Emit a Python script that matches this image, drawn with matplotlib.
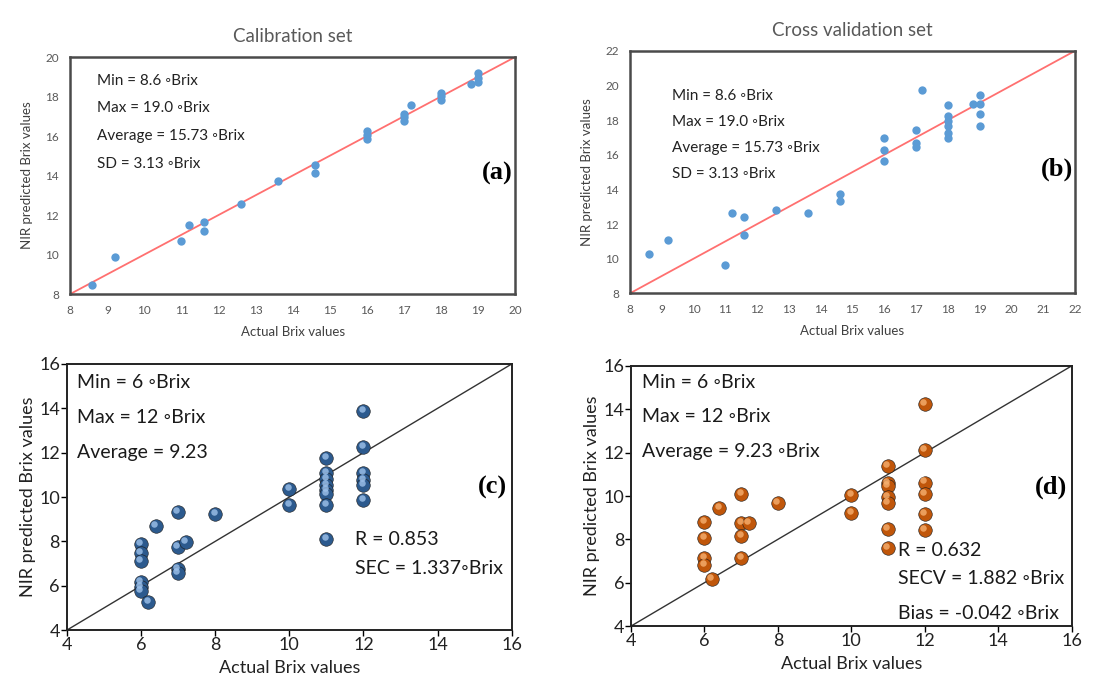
import matplotlib
matplotlib.use("Agg")
import matplotlib.pyplot as plt
from matplotlib.transforms import offset_copy

plt.rcParams['font.family'] = ['Lato', 'DejaVu Sans']

# (a) calibration set
cal_x = [8.6, 9.2, 11.0, 11.2, 11.6, 11.6, 12.6, 13.6, 14.6, 14.6, 16.0, 16.0, 16.0,
         17.0, 17.0, 17.0, 17.2, 18.0, 18.0, 18.0, 18.8, 19.0, 19.0, 19.0]
cal_y = [8.45, 9.85, 10.7, 11.47, 11.66, 11.19, 12.58, 13.71, 14.54, 14.14, 16.24, 16.07, 15.87,
         17.13, 16.97, 16.76, 17.59, 18.18, 18.01, 17.84, 18.65, 19.19, 18.96, 18.72]

# (b) cross validation set
cv_x = [8.6, 9.2, 11.0, 11.2, 11.6, 11.6, 12.6, 13.6, 14.6, 14.6, 16.0, 16.0, 16.0,
        17.0, 17.0, 17.0, 17.2, 18.0, 18.0, 18.0, 18.0, 18.0, 18.0, 18.8, 19.0, 19.0, 19.0, 19.0]
cv_y = [10.26, 11.09, 9.62, 12.63, 12.43, 11.39, 12.82, 12.63, 13.75, 13.36, 16.97, 16.25, 15.67,
        17.41, 16.68, 16.45, 19.76, 18.89, 18.22, 17.95, 17.64, 17.26, 16.97, 18.95, 19.43, 18.95, 18.37, 17.64]

# (c) calibration, second sample
c_x = [12, 12, 12, 12, 12, 12, 11, 11, 11, 11, 11, 11, 11, 11, 10, 10, 8, 7, 7, 7.2, 7, 7,
       6.4, 6, 6, 6, 6, 6, 6, 6.2]
c_y = [13.86, 12.25, 11.08, 10.78, 10.55, 9.87, 11.75, 11.1, 10.8, 10.55, 10.32, 10.14, 9.62, 8.1,
       10.37, 9.65, 9.24, 9.34, 7.73, 7.96, 6.76, 6.56, 8.71, 7.87, 7.46, 7.13, 6.15, 5.96, 5.78, 5.25]

# (d) cross validation, second sample
d_x = [12, 12, 12, 12, 12, 12, 11, 11, 11, 11, 11, 11, 11, 10, 10, 8, 7, 7, 7.2, 7, 7,
       6.4, 6, 6, 6, 6, 6.2]
d_y = [14.26, 12.11, 10.62, 10.11, 9.15, 8.45, 11.38, 10.6, 10.46, 9.95, 9.68, 8.49, 7.6,
       10.03, 9.23, 9.68, 10.08, 8.75, 8.75, 8.17, 7.15, 9.46, 8.8, 8.08, 7.15, 6.8, 6.17]

stats_ab = ["Min = 8.6 \u25e6Brix", "Max = 19.0 \u25e6Brix", "Average = 15.73 \u25e6Brix", "SD = 3.13 \u25e6Brix"]
stats_c = ["Min = 6 \u25e6Brix", "Max = 12 \u25e6Brix", "Average = 9.23"]
stats_d = ["Min = 6 \u25e6Brix", "Max = 12 \u25e6Brix", "Average = 9.23 \u25e6Brix"]

fig = plt.figure(figsize=(11.15, 6.79), dpi=100)
fig.patch.set_facecolor("white")

gray = "#595959"


def top_panel(rect, x, y, lim, title, label, tx, ty, dy):
    ax = fig.add_axes(rect)
    ax.plot(lim, lim, color="#ff7070", lw=1.3, zorder=2)
    ax.scatter(x, y, s=36, color="#5b9bd5", zorder=3, linewidths=0)
    ax.set_xlim(lim)
    ax.set_ylim(lim)
    ax.set_xticks(range(lim[0], lim[1] + 1))
    ax.set_yticks(range(lim[0], lim[1] + 1, 2))
    ax.tick_params(length=0, labelsize=8.5, labelcolor=gray, pad=8)
    for sp in ax.spines.values():
        sp.set_color("#4a4a4a")
        sp.set_linewidth(1.8)
    ax.set_title(title, fontsize=13.5, color=gray, pad=11)
    ax.set_xlabel("Actual Brix values", fontsize=9.5, color="#404040", labelpad=7)
    ax.set_ylabel("NIR predicted Brix values", fontsize=9.5, color="#404040", labelpad=9)
    for i, t in enumerate(stats_ab):
        ax.text(tx, ty - i * dy, t, transform=ax.transAxes, fontsize=11, color="#222222", va="center")
    ax.text(0.995, 0.51, label, transform=ax.transAxes, fontsize=19, fontweight="bold",
            family="Liberation Serif", ha="right", va="center")
    return ax


def bottom_panel(rect, x, y, base, light, label, stats, tx, ty, dy, extra, ex, ey):
    ax = fig.add_axes(rect)
    ax.plot([4, 16], [4, 16], color="#333333", lw=1.0, zorder=2)
    ax.scatter(x, y, s=95, color=base, edgecolors="#1a1a1a", linewidths=0.4, zorder=3)
    hl = offset_copy(ax.transData, fig=fig, x=-1.2, y=1.5, units="points")
    ax.scatter(x, y, s=22, color=light, linewidths=0, alpha=0.8, zorder=4, transform=hl)
    ax.set_xlim(4, 16)
    ax.set_ylim(4, 16)
    ax.set_xticks(range(4, 17, 2))
    ax.set_yticks(range(4, 17, 2))
    ax.tick_params(direction="out", length=4, width=1, labelsize=13, labelcolor="#222222", pad=1)
    for sp in ax.spines.values():
        sp.set_color("#222222")
        sp.set_linewidth(1.4)
    ax.set_xlabel("Actual Brix values", fontsize=13, color="#222222", labelpad=5)
    ax.set_ylabel("NIR predicted Brix values", fontsize=13, color="#222222", labelpad=2)
    for i, t in enumerate(stats):
        ax.text(tx, ty - i * dy, t, transform=ax.transAxes, fontsize=14, color="#1a1a1a", va="center")
    for i, t in enumerate(extra):
        ax.text(ex, ey[i], t, transform=ax.transAxes, fontsize=14, color="#1a1a1a", va="center")
    ax.text(0.99, 0.535, label, transform=ax.transAxes, fontsize=19, fontweight="bold",
            family="Liberation Serif", ha="right", va="center")
    return ax


top_panel([0.063, 0.567, 0.399, 0.349], cal_x, cal_y, (8, 20), "Calibration set", "(a)",
          0.06, 0.90, 0.117)
top_panel([0.565, 0.568, 0.399, 0.357], cv_x, cv_y, (8, 22), "Cross validation set", "(b)",
          0.094, 0.814, 0.107)

bottom_panel([0.060, 0.072, 0.399, 0.392], c_x, c_y, "#2c5a8e", "#9fc3ec", "(c)", stats_c,
             0.022, 0.932, 0.132, ["R = 0.853", "SEC = 1.337\u25e6Brix"], 0.647, [0.342, 0.233])
bottom_panel([0.566, 0.078, 0.395, 0.383], d_x, d_y, "#c0560a", "#f6b070", "(d)", stats_d,
             0.025, 0.935, 0.131, ["R = 0.632", "SECV = 1.882 \u25e6Brix", "Bias = -0.042 \u25e6Brix"],
             0.605, [0.292, 0.181, 0.05])

fig.savefig("out.png", dpi=100, facecolor="white")
